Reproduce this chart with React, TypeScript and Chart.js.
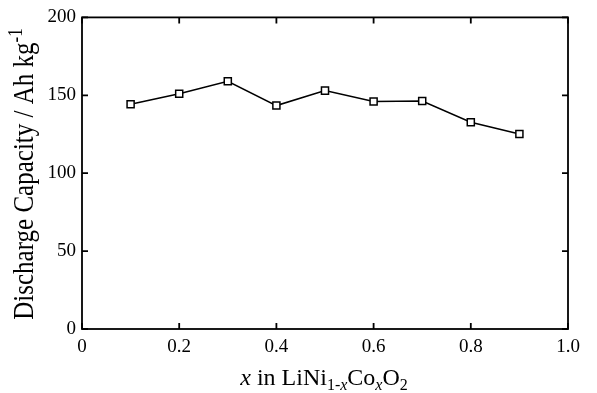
import React, { useEffect, useRef } from 'react';
import { Chart, registerables } from 'chart.js';
Chart.register(...registerables);

const xValues = [0.1, 0.2, 0.3, 0.4, 0.5, 0.6, 0.7, 0.8, 0.9];
const capacity = [144.2, 151, 159, 143.4, 153, 146, 146.3, 132.7, 125.2];
const xTicks = [0, 0.2, 0.4, 0.6, 0.8, 1.0];
const xTickLabels = ['0', '0.2', '0.4', '0.6', '0.8', '1.0'];
const yTicks = [0, 50, 100, 150, 200];
const yTickLabels = ['0', '50', '100', '150', '200'];

const FONT = '"Liberation Serif", "Times New Roman", serif';

type Seg = { t: string; it?: boolean; sub?: boolean; sup?: boolean };

function drawRich(ctx: CanvasRenderingContext2D, segs: Seg[], cx: number, baseY: number, size: number) {
  const small = Math.round(size * 0.68);
  const fontFor = (s: Seg) => `${s.it ? 'italic ' : ''}${s.sub || s.sup ? small : size}px ${FONT}`;
  let total = 0;
  const widths = segs.map((s) => {
    ctx.font = fontFor(s);
    const w = ctx.measureText(s.t).width;
    total += w;
    return w;
  });
  let x = cx - total / 2;
  ctx.textAlign = 'left';
  ctx.textBaseline = 'alphabetic';
  segs.forEach((s, i) => {
    ctx.font = fontFor(s);
    const dy = s.sub ? size * 0.2 : s.sup ? -size * 0.36 : 0;
    ctx.fillText(s.t, x, baseY + dy);
    x += widths[i];
  });
}

const framePlugin = {
  id: 'frameAndTitles',
  afterDraw(chart: any) {
    const ctx: CanvasRenderingContext2D = chart.ctx;
    const { left, right, top, bottom } = chart.chartArea;
    const xs = chart.scales.x;
    const ys = chart.scales.y;
    ctx.save();
    ctx.strokeStyle = '#000';
    ctx.lineWidth = 1.8;
    ctx.strokeRect(left, top, right - left, bottom - top);
    const tl = 6;
    ctx.beginPath();
    xTicks.forEach((v) => {
      const px = xs.getPixelForValue(v);
      ctx.moveTo(px, bottom);
      ctx.lineTo(px, bottom - tl);
      ctx.moveTo(px, top);
      ctx.lineTo(px, top + tl);
    });
    yTicks.forEach((v) => {
      const py = ys.getPixelForValue(v);
      ctx.moveTo(left, py);
      ctx.lineTo(left + tl, py);
      ctx.moveTo(right, py);
      ctx.lineTo(right - tl, py);
    });
    ctx.stroke();

    ctx.fillStyle = '#000';
    // x title
    drawRich(
      ctx,
      [
        { t: 'x', it: true },
        { t: ' in LiNi' },
        { t: '1-', sub: true },
        { t: 'x', sub: true, it: true },
        { t: 'Co' },
        { t: 'x', sub: true, it: true },
        { t: 'O' },
        { t: '2', sub: true },
      ],
      (left + right) / 2 - 1,
      385,
      24
    );
    // y title
    ctx.save();
    ctx.translate(33, 174);
    ctx.rotate(-Math.PI / 2);
    ctx.scale(1, 1.2);
    drawRich(ctx, [{ t: 'Discharge Capacity / Ah kg' }, { t: '-1', sup: true }], 0, 0, 25);
    ctx.restore();
    ctx.restore();
  },
};

export default function App() {
  const ref = useRef<HTMLCanvasElement>(null);
  useEffect(() => {
    document.body.style.margin = '0';
    const chart = new Chart(ref.current!, {
      type: 'scatter',
      data: {
        datasets: [
          {
            data: xValues.map((x, i) => ({ x, y: capacity[i] })),
            showLine: true,
            borderColor: '#000',
            borderWidth: 1.5,
            pointStyle: 'rect',
            pointRadius: 5,
            pointBorderWidth: 1.5,
            pointBackgroundColor: '#fff',
            pointBorderColor: '#000',
          },
        ],
      },
      options: {
        animation: false,
        responsive: false,
        layout: { padding: { top: 17, right: 29, left: 0, bottom: 0 } },
        plugins: { legend: { display: false }, tooltip: { enabled: false } },
        scales: {
          x: {
            type: 'linear',
            min: 0,
            max: 1,
            afterBuildTicks: (s: any) => {
              s.ticks = xTicks.map((v) => ({ value: v }));
            },
            afterFit: (s: any) => {
              s.height = 64;
            },
            grid: { display: false, drawTicks: false },
            border: { display: false },
            ticks: {
              autoSkip: false,
              maxRotation: 0,
              padding: 7,
              color: '#000',
              font: { family: FONT, size: 19 },
              callback: (_v: any, i: number) => xTickLabels[i],
            },
          },
          y: {
            type: 'linear',
            min: 0,
            max: 200,
            afterBuildTicks: (s: any) => {
              s.ticks = yTicks.map((v) => ({ value: v }));
            },
            afterFit: (s: any) => {
              s.width = 82;
            },
            grid: { display: false, drawTicks: false },
            border: { display: false },
            ticks: {
              autoSkip: false,
              padding: 6,
              color: '#000',
              font: { family: FONT, size: 19 },
              callback: (_v: any, i: number) => yTickLabels[i],
            },
          },
        },
      },
      plugins: [framePlugin],
    });
    return () => chart.destroy();
  }, []);
  return (
    <div style={{ position: 'absolute', left: 0, top: 0, width: 597, height: 393, background: '#fff' }}>
      <canvas ref={ref} width={597} height={393} style={{ display: 'block' }} />
    </div>
  );
}
